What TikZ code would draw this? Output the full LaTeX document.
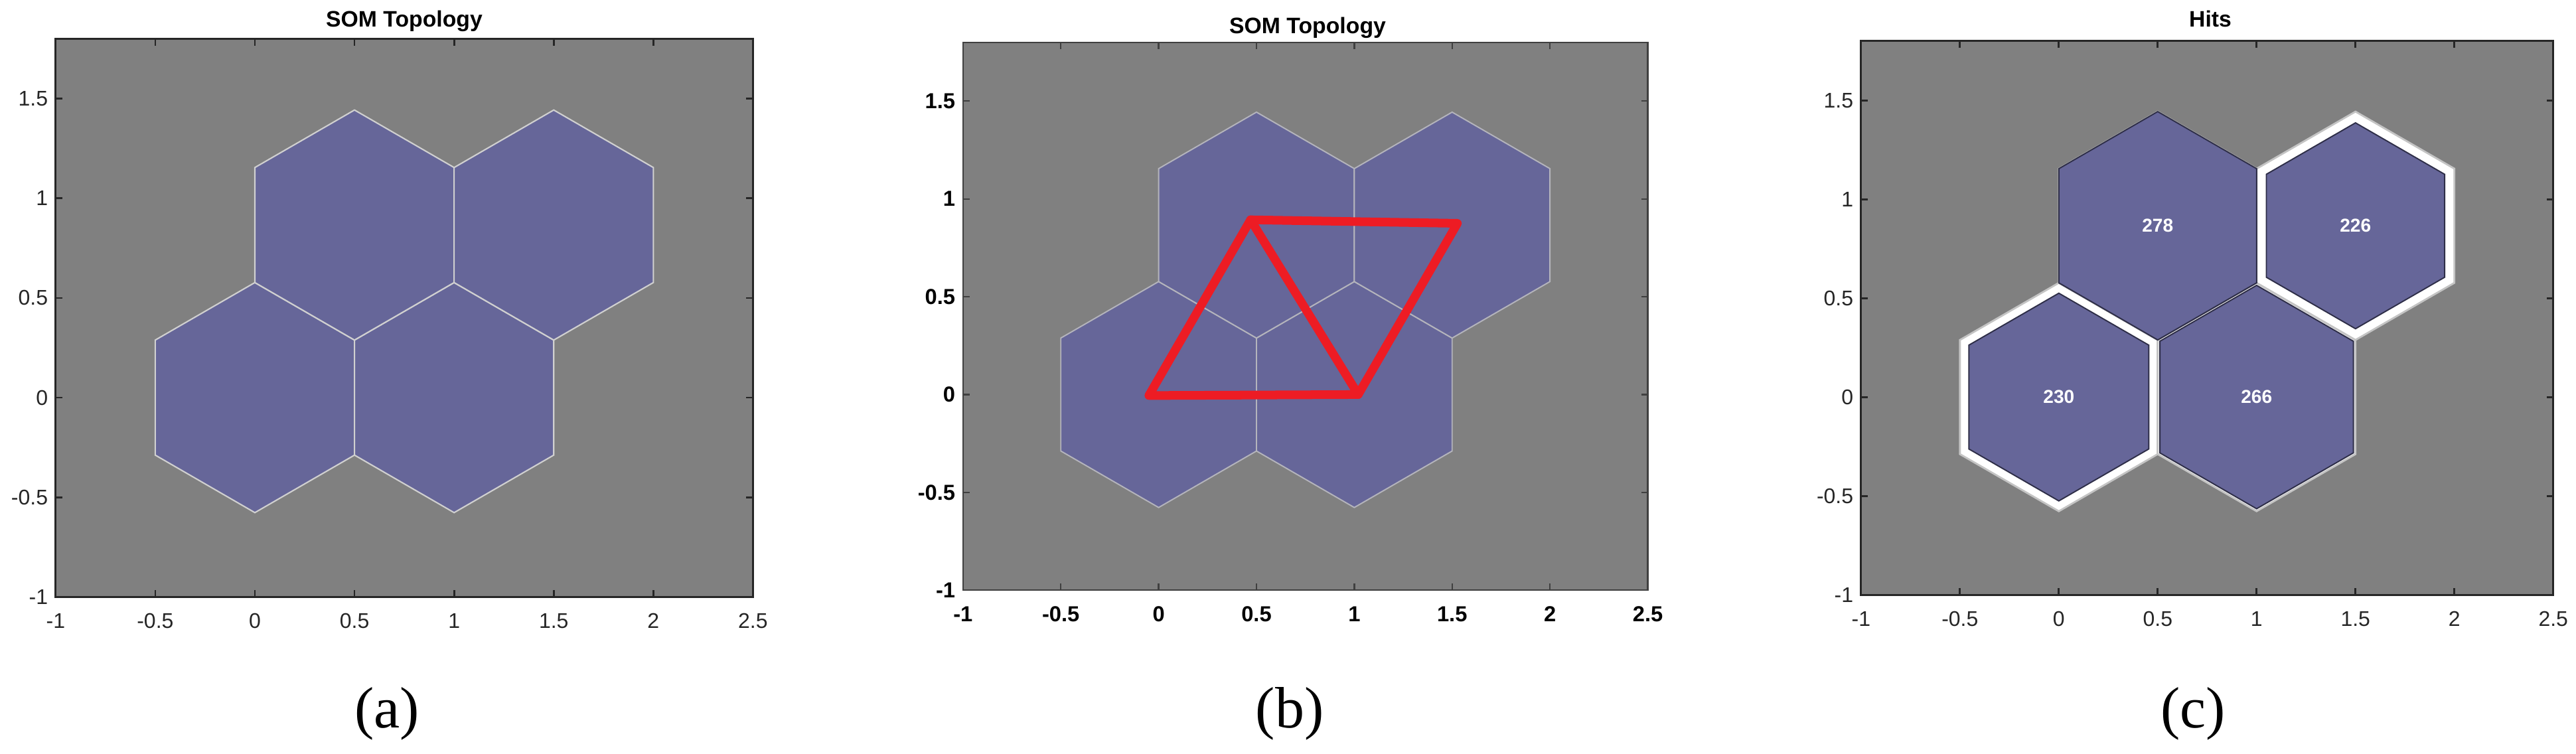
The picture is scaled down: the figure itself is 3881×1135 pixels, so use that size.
\documentclass[tikz,border=0pt]{standalone}
\usepackage{fontspec}
\setmainfont{Liberation Serif}
\newfontfamily\axfont{Liberation Sans}
\definecolor{somgray}{HTML}{808080}
\definecolor{somhexfill}{HTML}{666699}
\definecolor{somedgea}{HTML}{D0D0D0}
\definecolor{somedgeb}{HTML}{B4B4BC}
\definecolor{somedgec}{HTML}{2E2E48}
\definecolor{somcellc}{HTML}{C4C4C4}
\definecolor{somaxis}{HTML}{262626}
\definecolor{somred}{HTML}{ED1C24}
\newcommand{\somhex}[4]{\path[#1,shift={(#2,#3)},scale=#4] (0.5,0.288675) -- (0,0.57735) -- (-0.5,0.288675) -- (-0.5,-0.288675) -- (0,-0.57735) -- (0.5,-0.288675) -- cycle;}
\newcommand{\somframe}[3]{%
  \foreach \t in {-0.5,0,0.5,1,1.5,2} {
    \draw[#1] (\t,-1) -- ++(0,#3);
    \draw[#1] (\t,1.8) -- ++(0,-#3);
  }
  \foreach \t in {-0.5,0,0.5,1,1.5} {
    \draw[#1] (-1,\t) -- ++(#3,0);
    \draw[#1] (2.5,\t) -- ++(-#3,0);
  }
  \draw[#1] (-1,-1) rectangle (2.5,1.8);
  \foreach \t/\s in {-1/-1,-0.5/-0.5,0/0,0.5/0.5,1/1,1.5/1.5,2/2,2.5/2.5} {
    \node[#2, yshift=-0.36cm] at (\t,-1) {\s};
  }
  \foreach \t/\s in {-1/-1,-0.5/-0.5,0/0,0.5/0.5,1/1,1.5/1.5} {
    \node[#2, anchor=east, xshift=-0.11cm] at (-1,\t) {\s};
  }
}
\begin{document}
\begin{tikzpicture}[x=0.01cm,y=-0.01cm,
  ticklab/.style={font=\axfont\fontsize{9.1}{10}\selectfont, text=somaxis, inner sep=0pt},
  tickbold/.style={font=\axfont\bfseries\fontsize{9.3}{10}\selectfont, text=black, inner sep=0pt},
  titlelab/.style={font=\axfont\bfseries\fontsize{9.6}{11}\selectfont, inner sep=0pt, anchor=base},
  hitlab/.style={font=\axfont\bfseries\fontsize{8}{9}\selectfont, text=white, inner sep=0pt},
  caplab/.style={font=\fontsize{25}{28}\selectfont, inner sep=0pt},
  frameac/.style={draw=somaxis, line width=0.8pt},
  frameb/.style={draw=black!75, line width=0.65pt},
  cellA/.style={fill=somhexfill, draw=somedgea, line width=0.6pt, line join=miter},
  cellB/.style={fill=somhexfill, draw=somedgeb, line width=0.55pt},
  cellOuter/.style={fill=white, draw=somcellc, line width=0.8pt},
  cellInner/.style={fill=somhexfill, draw=somedgec, line width=0.55pt},
  redline/.style={draw=somred, line width=3.7pt, line cap=round, line join=round}]
\fill[white] (0,0) rectangle (3881,1135);
\useasboundingbox (0,0) rectangle (3881,1135);

% ---------- panel (a)
\node[titlelab] (ta) at (609,40) {SOM Topology};
\begin{scope}[shift={(384,599)}, x=3cm, y=3cm]
  \fill[somgray] (-1,-1) rectangle (2.5,1.8);
  \foreach \cx/\cy in {0/0,1/0,0.5/0.866025,1.5/0.866025} {
    \somhex{cellA}{\cx}{\cy}{1}
  }
  \somframe{frameac}{ticklab}{0.034}
\end{scope}
\node[caplab] (ca) at (583,1075) {(a)};

% ---------- panel (b)
\node[titlelab] (tb) at (1970,50) {SOM Topology};
\begin{scope}[shift={(1745.6,594.4)}, x=2.946cm, y=2.946cm]
  \fill[somgray] (-1,-1) rectangle (2.5,1.8);
  \foreach \cx/\cy in {0/0,1/0,0.5/0.866025,1.5/0.866025} {
    \somhex{cellB}{\cx}{\cy}{1}
  }
  \coordinate (rA) at (-0.05,-0.005);
  \coordinate (rB) at (0.47,0.893);
  \coordinate (rC) at (1.527,0.875);
  \coordinate (rD) at (1.02,0.0);
  \draw[redline] (rA) -- (rB) -- (rD) -- cycle;
  \draw[redline] (rB) -- (rC) -- (rD);
  \somframe{frameb}{tickbold}{0.034}
\end{scope}
\node[caplab] (cb) at (1943,1075) {(b)};

% ---------- panel (c)
\node[titlelab] (tc) at (3330,40) {Hits};
\begin{scope}[shift={(3101.8,598.2)}, x=2.978cm, y=2.978cm]
  \fill[somgray] (-1,-1) rectangle (2.5,1.8);
  \foreach \cx/\cy in {0/0,1/0,0.5/0.866025,1.5/0.866025} {
    \somhex{cellOuter}{\cx}{\cy}{1}
  }
  \somhex{cellInner}{0}{0}{0.9096}
  \somhex{cellInner}{1}{0}{0.9782}
  \somhex{cellInner}{0.5}{0.866025}{1}
  \somhex{cellInner}{1.5}{0.866025}{0.9016}
  \node[hitlab] (h230) at (0,0) {230};
  \node[hitlab] (h266) at (1,0) {266};
  \node[hitlab] (h278) at (0.5,0.866025) {278};
  \node[hitlab] (h226) at (1.5,0.866025) {226};
  \somframe{frameac}{ticklab}{0.034}
\end{scope}
\node[caplab] (cc) at (3304,1075) {(c)};
\end{tikzpicture}
\end{document}
